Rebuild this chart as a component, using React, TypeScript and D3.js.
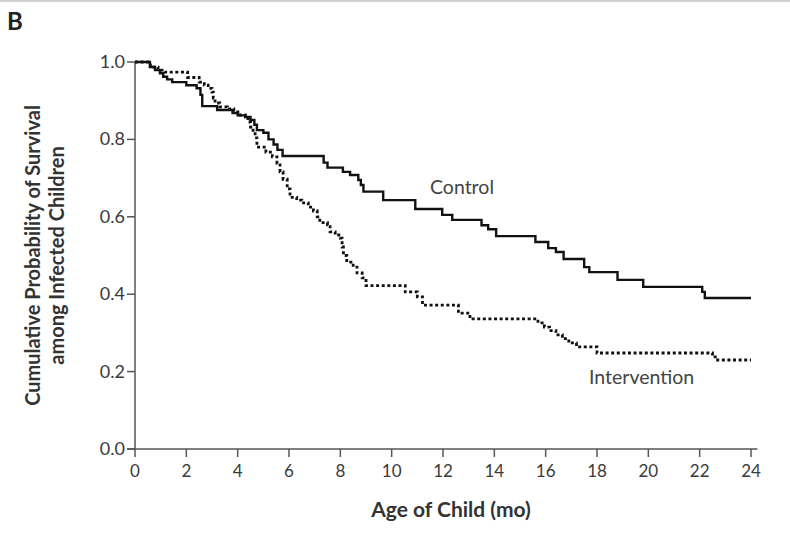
import * as d3 from 'd3';

// Kaplan-Meier steps: [month, survival after the drop]
const controlSteps: [number, number][] = [
  [0, 1.0], [0.58, 0.987], [0.78, 0.979], [0.97, 0.971], [1.1, 0.962], [1.25, 0.955],
  [1.45, 0.948], [2.0, 0.94], [2.4, 0.932], [2.55, 0.915], [2.62, 0.886], [3.2, 0.876],
  [3.8, 0.868], [4.0, 0.862], [4.3, 0.858], [4.5, 0.85], [4.65, 0.838], [4.75, 0.824],
  [5.0, 0.817], [5.2, 0.8], [5.4, 0.787], [5.55, 0.773], [5.75, 0.757], [7.35, 0.74],
  [7.5, 0.727], [8.1, 0.716], [8.38, 0.708], [8.7, 0.695], [8.8, 0.682], [8.9, 0.665],
  [9.67, 0.643], [10.92, 0.62], [11.97, 0.605], [12.36, 0.592], [13.5, 0.578],
  [13.76, 0.568], [14.07, 0.55], [15.6, 0.535], [16.1, 0.519], [16.4, 0.509],
  [16.7, 0.491], [17.5, 0.47], [17.7, 0.457], [18.8, 0.437], [19.8, 0.419],
  [22.1, 0.406], [22.2, 0.39],
];

const interventionSteps: [number, number][] = [
  [0, 1.0], [0.6, 0.987], [0.9, 0.979], [1.15, 0.974], [2.05, 0.96], [2.5, 0.948],
  [2.7, 0.94], [2.85, 0.932], [3.0, 0.922], [3.05, 0.907], [3.12, 0.894], [3.3, 0.884],
  [3.6, 0.879], [3.85, 0.871], [4.1, 0.863], [4.3, 0.858], [4.4, 0.845], [4.5, 0.832],
  [4.6, 0.819], [4.68, 0.804], [4.75, 0.78], [5.1, 0.767], [5.35, 0.755], [5.53, 0.739],
  [5.65, 0.716], [5.77, 0.697], [5.93, 0.672], [6.04, 0.65], [6.3, 0.643], [6.5, 0.636],
  [6.75, 0.625], [6.95, 0.615], [7.1, 0.6], [7.2, 0.585], [7.5, 0.579], [7.6, 0.561],
  [7.8, 0.553], [8.0, 0.545], [8.07, 0.522], [8.12, 0.5], [8.25, 0.483], [8.5, 0.47],
  [8.65, 0.455], [8.85, 0.442], [9.0, 0.422], [10.53, 0.406], [11.0, 0.393],
  [11.2, 0.372], [12.6, 0.351], [13.05, 0.336], [15.7, 0.326], [15.95, 0.315],
  [16.15, 0.306], [16.4, 0.295], [16.65, 0.285], [16.9, 0.274], [17.2, 0.264],
  [18.0, 0.248], [22.5, 0.238], [22.7, 0.23],
];

const followUpEnd = 24;
const xTicks = d3.range(0, 25, 2);
const yTicks = [0, 0.2, 0.4, 0.6, 0.8, 1.0];

const W = 790;
const H = 544;
const FONT = 'Lato, "Open Sans", sans-serif';

export default function App() {
  const x = d3.scaleLinear().domain([0, 24]).range([135, 751]);
  const y = d3.scaleLinear().domain([0, 1]).range([449, 62]);

  const line = d3
    .line<[number, number]>()
    .x((d) => x(d[0]))
    .y((d) => y(d[1]))
    .curve(d3.curveStepAfter);

  const withEnd = (steps: [number, number][]) =>
    [...steps, [followUpEnd, steps[steps.length - 1][1]] as [number, number]];

  return (
    <svg
      width={W}
      height={H}
      style={{ position: 'absolute', left: 0, top: 0, background: '#fff' }}
      fontFamily={FONT}
    >
      <line x1={0} x2={W} y1={1} y2={1} stroke="#d0d0d0" strokeWidth={2} />
      <text x={7} y={30} fontSize={24} fontWeight={700} fill="#222">B</text>

      {/* y axis */}
      <line x1={x(0)} x2={x(0)} y1={y(1)} y2={y(0)} stroke="#555" strokeWidth={1.5} />
      {yTicks.map((t) => (
        <g key={t}>
          <line x1={x(0) - 8} x2={x(0)} y1={y(t)} y2={y(t)} stroke="#555" strokeWidth={1.5} />
          <text x={x(0) - 10} y={y(t) + 6} textAnchor="end" fontSize={18} fill="#3a3a3a">
            {d3.format('.1f')(t)}
          </text>
        </g>
      ))}

      {/* x axis */}
      <line x1={x(0) - 8} x2={x(24.25)} y1={y(0)} y2={y(0)} stroke="#555" strokeWidth={1.5} />
      {xTicks.map((t) => (
        <g key={t}>
          <line x1={x(t)} x2={x(t)} y1={y(0)} y2={y(0) + 8} stroke="#555" strokeWidth={1.5} />
          <text x={x(t)} y={y(0) + 28} textAnchor="middle" fontSize={17} fill="#3a3a3a">
            {t}
          </text>
        </g>
      ))}

      {/* curves */}
      <path d={line(withEnd(controlSteps)) ?? ''} fill="none" stroke="#111" strokeWidth={2.4} />
      <path
        d={line(withEnd(interventionSteps)) ?? ''}
        fill="none"
        stroke="#111"
        strokeWidth={2.8}
        strokeDasharray="3,2.6"
      />

      <text x={430} y={194} fontSize={19.5} fill="#444">Control</text>
      <text x={589} y={384} fontSize={19.5} fill="#444">Intervention</text>

      {/* axis titles */}
      <text x={451} y={517} textAnchor="middle" fontSize={21} fontWeight={700} fill="#333">
        Age of Child (mo)
      </text>
      <g transform={`translate(40,${(y(0) + y(1)) / 2}) rotate(-90)`}>
        <text textAnchor="middle" fontSize={20} fontWeight={700} fill="#333">
          Cumulative Probability of Survival
        </text>
        <text y={24} textAnchor="middle" fontSize={20} fontWeight={700} fill="#333">
          among Infected Children
        </text>
      </g>
    </svg>
  );
}
